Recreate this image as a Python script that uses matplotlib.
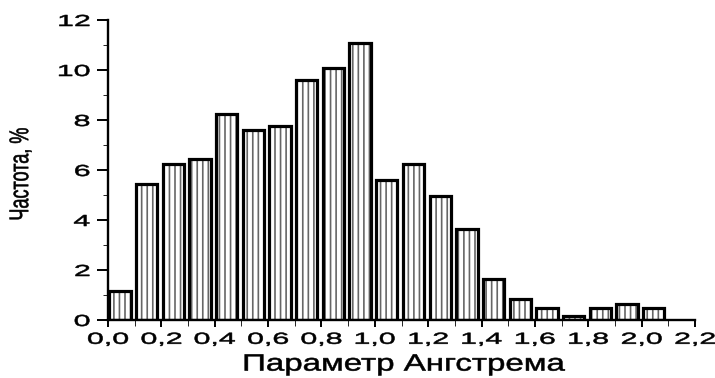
import numpy as np
import matplotlib
matplotlib.use("Agg")
import matplotlib.pyplot as plt
from matplotlib.patheffects import AbstractPathEffect
from matplotlib.transforms import Affine2D, IdentityTransform
from matplotlib.ticker import MultipleLocator, FuncFormatter

# bin starts of the Angstrom exponent histogram and frequency in percent
bin_starts = [0.0, 0.1, 0.2, 0.3, 0.4, 0.5, 0.6, 0.7, 0.8, 0.9, 1.0,
              1.1, 1.2, 1.3, 1.4, 1.5, 1.6, 1.7, 1.8, 1.9, 2.0]
freq = [1.15, 5.45, 6.25, 6.45, 8.25, 7.6, 7.75, 9.6, 10.1, 11.1, 5.6,
        6.25, 4.95, 3.65, 1.65, 0.85, 0.5, 0.18, 0.5, 0.65, 0.5]

x_label = "Параметр Ангстрема"
y_label = "Частота, %"


class Widen(AbstractPathEffect):
    """Draw text glyphs stretched horizontally on screen, slightly emboldened."""

    def __init__(self, sx, anchor="center", stroke=0.4):
        super().__init__()
        self.sx = sx
        self.anchor = anchor
        self.stroke = stroke

    def draw_path(self, renderer, gc, tpath, affine, rgbFace=None):
        p = affine.transform_path(tpath)
        ext = p.get_extents()
        cx = ext.x1 if self.anchor == "right" else (ext.x0 + ext.x1) / 2
        t = Affine2D().translate(-cx, 0).scale(self.sx, 1).translate(cx, 0)
        p = t.transform_path(p)
        gc0 = renderer.new_gc()
        gc0.copy_properties(gc)
        gc0.set_linewidth(self.stroke)
        if rgbFace is not None:
            gc0.set_foreground(rgbFace)
        renderer.draw_path(gc0, p, IdentityTransform(), rgbFace)
        gc0.restore()


plt.rcParams["font.family"] = ["Liberation Sans", "DejaVu Sans"]
plt.rcParams["hatch.linewidth"] = 1.2

fig = plt.figure(figsize=(7.15, 3.78), dpi=100)
ax = fig.add_axes([108 / 715, 1 - 320 / 378, 587 / 715, 300 / 378])

left = np.array(bin_starts) + 0.005
ax.bar(left, freq, width=0.08, align="edge", color="white",
       edgecolor="#666666", linewidth=0, hatch="|||", zorder=2)
ax.bar(left, freq, width=0.08, align="edge", fill=False,
       edgecolor="black", linewidth=2.3, zorder=3)

ax.set_xlim(0, 2.2)
ax.set_ylim(0, 12)
ax.xaxis.set_major_locator(MultipleLocator(0.2))
ax.xaxis.set_minor_locator(MultipleLocator(0.1))
ax.yaxis.set_major_locator(MultipleLocator(2))
ax.yaxis.set_minor_locator(MultipleLocator(1))
ax.xaxis.set_major_formatter(FuncFormatter(lambda v, _: f"{v:.1f}".replace(".", ",")))
ax.yaxis.set_major_formatter(FuncFormatter(lambda v, _: f"{v:.0f}"))

for s in ["top", "right"]:
    ax.spines[s].set_visible(False)
for s in ["left", "bottom"]:
    ax.spines[s].set_linewidth(1.7)

ax.tick_params(direction="out", width=1.4, labelsize=11.5)
ax.tick_params(axis="x", which="major", length=5, pad=3.5)
ax.tick_params(axis="x", which="minor", length=4)
ax.tick_params(axis="y", which="major", length=8, pad=5)
ax.tick_params(axis="y", which="minor", length=3.6)

for lab in ax.get_xticklabels():
    lab.set_path_effects([Widen(1.9)])
for lab in ax.get_yticklabels():
    lab.set_path_effects([Widen(1.9, anchor="right")])

ax.set_xlabel(x_label, fontsize=17, va="top", path_effects=[Widen(1.4)])
ax.xaxis.set_label_coords(0.504, -0.112)
ax.set_ylabel(y_label, fontsize=13, va="center", path_effects=[Widen(1.5)])
ax.yaxis.set_label_coords(-0.148, 0.485)

fig.savefig("out.png", dpi=100)
